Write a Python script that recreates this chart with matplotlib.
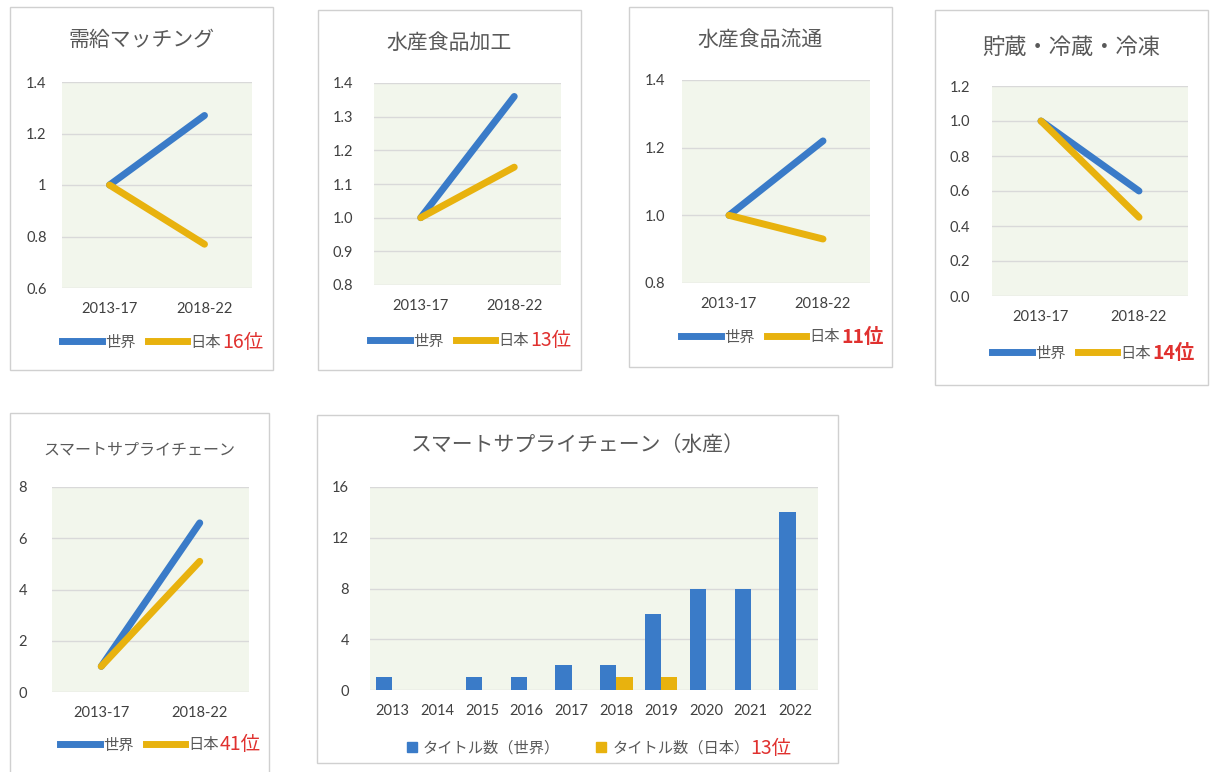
import numpy as np
import matplotlib
matplotlib.use('Agg')
import matplotlib.pyplot as plt
from matplotlib.patches import Rectangle
from matplotlib.lines import Line2D

plt.rcParams['font.family'] = ['Lato', 'Noto Sans CJK JP', 'DejaVu Sans']

# 期間比較（2013-17 = 1 とした相対値）
periods = ['2013-17', '2018-22']
match_world = [1.0, 1.27]
match_japan = [1.0, 0.77]
proc_world = [1.0, 1.36]
proc_japan = [1.0, 1.15]
dist_world = [1.0, 1.22]
dist_japan = [1.0, 0.93]
cold_world = [1.0, 0.60]
cold_japan = [1.0, 0.45]
scm_world = [1.0, 6.6]
scm_japan = [1.0, 5.1]

# 年別タイトル数
years = ['2013', '2014', '2015', '2016', '2017', '2018', '2019', '2020', '2021', '2022']
fish_world = [1, 0, 1, 1, 2, 2, 6, 8, 8, 14]
fish_japan = [0, 0, 0, 0, 0, 1, 1, 0, 0, 0]

BLUE = '#3A7BC8'
GOLD = '#E8B20E'
RED = '#E0312F'
GRAY = '#595959'
TICK = '#404040'
PLOT_BG = '#F2F6EC'
LW = 5

W, H = 1211, 772
fig = plt.figure(figsize=(W / 100, H / 100), dpi=100)


def frac(x0, y0, x1, y1):
    return [x0 / W, 1 - y1 / H, (x1 - x0) / W, (y1 - y0) / H]


def panel(box, area, title, title_y, title_size, ypad):
    x0, y0, x1, y1 = box
    fig.patches.append(Rectangle((x0 / W, 1 - y1 / H), (x1 - x0) / W, (y1 - y0) / H,
                                 transform=fig.transFigure, facecolor='white',
                                 edgecolor='#D0D0D0', lw=1, zorder=-1))
    fig.text((x0 + x1) / 2 / W, 1 - title_y / H, title, ha='center', va='center',
             fontsize=title_size, color=GRAY, family=['Noto Sans CJK JP'])
    ax = fig.add_axes(frac(*area))
    ax.set_facecolor(PLOT_BG)
    for s in ax.spines.values():
        s.set_visible(False)
    ax.grid(axis='y', color='#D9D9D9', lw=1)
    ax.set_axisbelow(True)
    ax.tick_params(axis='both', length=0, labelsize=10.5, labelcolor=TICK)
    ax.tick_params(axis='y', pad=ypad)
    ax.tick_params(axis='x', pad=10)
    return ax


def rank_legend(ax, handles, labels, cx, cy, rank, fs=11, colsp=0.8, hl=2.6, bold=False):
    leg = fig.legend(handles, labels, loc='center', bbox_to_anchor=(cx / W, 1 - cy / H),
                     ncol=2, frameon=False, handlelength=hl,
                     handletextpad=0.2, columnspacing=colsp, borderpad=0,
                     labelcolor=GRAY, prop={'family': ['Noto Sans CJK JP'], 'size': fs})
    fig.canvas.draw()
    bb = leg.get_window_extent()
    fig.text(bb.x1 / W + 0.001, 1 - cy / H, rank, ha='left', va='center', fontsize=14,
             color=RED, weight='bold' if bold else 'normal',
             family=['Noto Sans CJK JP'])


def line_panel(box, area, title, title_y, title_size, world, japan, ylim, yticks, fmt,
               ypad, legend_y, rank, bold=False):
    ax = panel(box, area, title, title_y, title_size, ypad)
    x = np.arange(len(periods))
    ax.plot(x, world, color=BLUE, lw=LW, solid_capstyle='round', zorder=3)
    ax.plot(x, japan, color=GOLD, lw=LW, solid_capstyle='round', zorder=4)
    ax.set_xlim(-0.5, 1.5)
    ax.set_xticks(x)
    ax.set_xticklabels(periods)
    ax.set_ylim(*ylim)
    ax.set_yticks(yticks)
    ax.set_yticklabels([fmt(v) for v in yticks])
    handles = [Line2D([], [], color=BLUE, lw=LW), Line2D([], [], color=GOLD, lw=LW)]
    rank_legend(ax, handles, ['世界', '日本'], (box[0] + box[2]) / 2, legend_y, rank, bold=bold)
    return ax


line_panel((10, 7, 273, 370), (62, 82, 252, 288), '需給マッチング', 40, 15,
           match_world, match_japan, (0.6, 1.4), [0.6, 0.8, 1.0, 1.2, 1.4],
           lambda v: f'{v:g}', 11, 342, '16位')

line_panel((318, 10, 581, 370), (374, 83, 561, 285), '水産食品加工', 43, 15,
           proc_world, proc_japan, (0.8, 1.4), [0.8, 0.9, 1.0, 1.1, 1.2, 1.3, 1.4],
           lambda v: f'{v:.1f}', 15, 341, '13位')

line_panel((629, 7, 892, 367), (682, 80, 870, 283), '水産食品流通', 40, 15,
           dist_world, dist_japan, (0.8, 1.4), [0.8, 1.0, 1.2, 1.4],
           lambda v: f'{v:.1f}', 12, 337, '11位', bold=True)

line_panel((935, 10, 1208, 385), (992, 86, 1188, 296), '貯蔵・冷蔵・冷凍', 47, 16,
           cold_world, cold_japan, (0.0, 1.2), [0.0, 0.2, 0.4, 0.6, 0.8, 1.0, 1.2],
           lambda v: f'{v:.1f}', 16, 353, '14位', bold=True)

line_panel((10, 413, 269, 790), (52, 487, 249, 692), 'スマートサプライチェーン', 450, 11.5,
           scm_world, scm_japan, (0, 8), [0, 2, 4, 6, 8],
           lambda v: f'{v:g}', 18, 745, '41位')

# 年別の棒グラフ
ax = panel((317, 415, 838, 763), (370, 487, 818, 690), 'スマートサプライチェーン（水産）',
           445, 15, 15)
x = np.arange(len(years))
ax.bar(x - 0.18, fish_world, 0.36, color=BLUE, zorder=3)
ax.bar(x + 0.18, fish_japan, 0.36, color=GOLD, zorder=3)
ax.set_xlim(-0.5, len(years) - 0.5)
ax.set_xticks(x)
ax.set_xticklabels(years)
ax.set_ylim(0, 16)
ax.set_yticks([0, 4, 8, 12, 16])
handles = [Line2D([], [], color=BLUE, marker='s', ls='', markersize=7),
           Line2D([], [], color=GOLD, marker='s', ls='', markersize=7)]
rank_legend(ax, handles, ['タイトル数（世界）', 'タイトル数（日本）'], 577, 748, '13位',
            colsp=2.2, hl=1.0)

fig.savefig('out.png', dpi=100, facecolor='white')
